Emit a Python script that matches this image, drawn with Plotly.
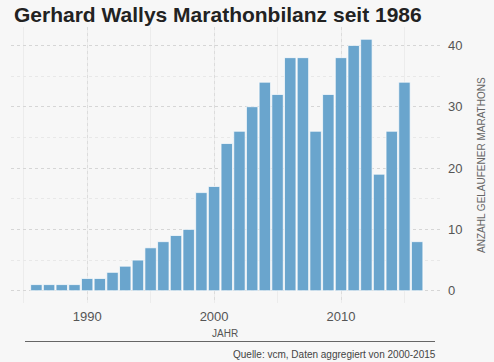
import plotly.graph_objects as go

years = list(range(1986, 2017))
marathons = [1, 1, 1, 1, 2, 2, 3, 4, 5, 7, 8, 9, 10, 16, 17, 24, 26, 30,
             34, 32, 38, 38, 26, 32, 38, 40, 41, 19, 26, 34, 8]
x_ticks = [1990, 2000, 2010]
y_ticks = [0, 10, 20, 30, 40]

title = "Gerhard Wallys Marathonbilanz seit 1986"
y_title = "ANZAHL GELAUFENER MARATHONS"
x_title = "JAHR"
source = "Quelle: vcm, Daten aggregiert von 2000-2015"

FONT = "Liberation Sans, Arial, Helvetica, sans-serif"
BG = "#f7f7f7"

fig = go.Figure()
fig.add_trace(go.Bar(
    x=years, y=marathons,
    marker=dict(color="#6aa5cd", line=dict(color="rgba(255,255,255,0.7)", width=1)),
    hoverinfo="x+y",
))

fig.update_layout(
    width=494, height=362,
    paper_bgcolor=BG, plot_bgcolor=BG,
    margin=dict(l=11, r=54, t=27, b=59),
    bargap=0.1,
    showlegend=False,
    font=dict(family=FONT, color="#555555"),
    xaxis=dict(
        range=[1984.0, 2017.8],
        tickvals=x_ticks,
        ticks="",
        tickfont=dict(size=13, color="#555555"),
        showgrid=True, gridcolor="#dcdcdc", griddash="dot", gridwidth=1,
        minor=dict(dtick=5, tick0=1985, showgrid=True, gridcolor="#ececec", griddash="solid", gridwidth=1),
        zeroline=False, showline=False,
        ticklabelstandoff=4,
    ),
    yaxis=dict(
        side="right",
        range=[-2, 43],
        tickvals=y_ticks,
        ticks="",
        tickfont=dict(size=13, color="#555555"),
        showgrid=True, gridcolor="#d6d6d6", griddash="dot", gridwidth=1,
        minor=dict(dtick=5, tick0=0, showgrid=True, gridcolor="#e8e8e8", griddash="dot", gridwidth=1),
        zeroline=False, showline=False,
        ticklabelstandoff=7,
    ),
    annotations=[
        dict(text="<b>" + title + "</b>", xref="paper", yref="paper",
             x=1/429, y=1 + 13/276, xanchor="left", yanchor="middle",
             showarrow=False, font=dict(size=21, color="#222222", family=FONT)),
        dict(text=y_title, xref="paper", yref="paper",
             x=(481-11)/429, y=1 - (165-27)/276, xanchor="center", yanchor="middle",
             textangle=-90, showarrow=False, font=dict(size=10, color="#666666", family=FONT)),
        dict(text=x_title, xref="paper", yref="paper",
             x=(225-11)/429, y=-(333-303)/276, xanchor="center", yanchor="middle",
             showarrow=False, font=dict(size=10, color="#555555", family=FONT)),
        dict(text=source, xref="paper", yref="paper",
             x=(438-11)/429, y=-(354-303)/276, xanchor="right", yanchor="middle",
             showarrow=False, font=dict(size=10, color="#444444", family=FONT)),
    ],
    shapes=[
        dict(type="line", xref="paper", yref="paper",
             x0=(25-11)/429, x1=(435-11)/429,
             y0=-(341.5-303)/276, y1=-(341.5-303)/276,
             line=dict(color="#666666", width=1)),
    ],
)

fig.write_html(
    "out.html",
    config={"displayModeBar": False},
    post_script="document.body.style.margin='0';document.body.style.padding='0';"
                "document.body.style.background='#f7f7f7';",
)
